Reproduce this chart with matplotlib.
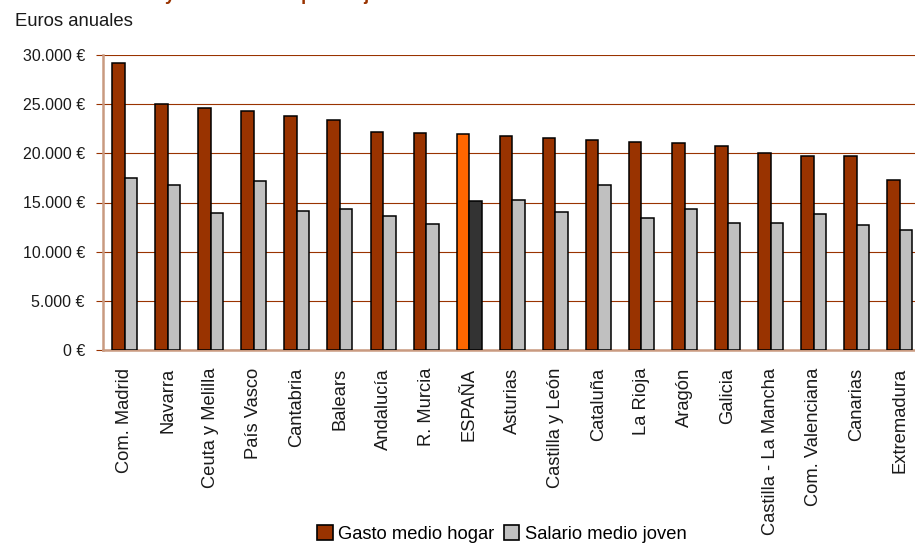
import matplotlib
matplotlib.use("Agg")
import matplotlib.pyplot as plt
import numpy as np
from matplotlib.patches import Patch
from matplotlib.ticker import FuncFormatter

regiones = ["Com. Madrid", "Navarra", "Ceuta y Melilla", "País Vasco", "Cantabria",
            "Balears", "Andalucía", "R. Murcia", "ESPAÑA", "Asturias",
            "Castilla y León", "Cataluña", "La Rioja", "Aragón", "Galicia",
            "Castilla - La Mancha", "Com. Valenciana", "Canarias", "Extremadura"]
gasto_hogar = [29200, 25050, 24600, 24300, 23800, 23350, 22170, 22070, 21970, 21730,
               21560, 21390, 21190, 21020, 20780, 20070, 19730, 19730, 17290]
salario_joven = [17490, 16810, 13900, 17220, 14100, 14370, 13660, 12780, 15120, 15250,
                 14000, 16810, 13390, 14370, 12920, 12920, 13800, 12680, 12200]
yticks = [0, 5000, 10000, 15000, 20000, 25000, 30000]
series_names = ["Gasto medio hogar", "Salario medio joven"]
titulo = "Coste de la vivienda y salario medio para el joven"

FONT = ["Liberation Sans", "DejaVu Sans"]
plt.rcParams["font.family"] = FONT

RED = "#993300"
GREY = "#C0C0C0"
ORANGE = "#FF6600"
DARK = "#333333"
SPINE = "#C99A80"
TXT = "#1a1a1a"

fig = plt.figure(figsize=(9.15, 5.43), dpi=100)
W, H = 915, 543
ax = fig.add_axes([103 / W, 1 - 350 / H, (921.5 - 103) / W, 295 / H])

x = np.arange(len(regiones))
bw = 0.29
red_colors = [ORANGE if r == "ESPAÑA" else RED for r in regiones]
grey_colors = [DARK if r == "ESPAÑA" else GREY for r in regiones]

ax.bar(x - bw / 2, gasto_hogar, width=bw, color=red_colors, edgecolor="black",
       linewidth=1.1, zorder=3)
ax.bar(x + bw / 2, salario_joven, width=bw, color=grey_colors, edgecolor="black",
       linewidth=1.1, zorder=3)

ax.set_xlim(-0.5, len(regiones) - 0.5)
ax.set_ylim(0, 30000)
ax.set_yticks(yticks)
ax.yaxis.set_major_formatter(FuncFormatter(lambda v, p: f"{int(v):,}".replace(",", ".") + " €"))
ax.yaxis.grid(True, color=RED, linewidth=0.8, zorder=0)
ax.set_axisbelow(True)

ax.set_xticks(x)
ax.set_xticklabels(regiones, rotation=90, fontsize=13.2, va="top", ha="center",
                   color=TXT)
ax.tick_params(axis="x", length=0, pad=13)
ax.tick_params(axis="y", length=5, color=RED, width=0.8, labelsize=11.5, pad=8,
               labelcolor=TXT)

for s in ["top", "right"]:
    ax.spines[s].set_visible(False)
for s in ["left", "bottom"]:
    ax.spines[s].set_color(SPINE)
    ax.spines[s].set_linewidth(1.8)

fig.text(15 / W, 1 - 21 / H, "Euros anuales", fontsize=13.3, ha="left", va="center",
         color=TXT)

# Title (cut off at the top of the image: only descenders visible)
renderer = fig.canvas.get_renderer()
prefix = titulo[:titulo.index(" y ") + 1]
tmp = fig.text(0, 0, prefix, fontsize=13, fontweight="bold")
pre_w = tmp.get_window_extent(renderer).width
tmp.remove()
fig.text((165 - pre_w) / W, 1.0, titulo, fontsize=13, fontweight="bold", color=RED,
         ha="left", va="baseline")

handles = [Patch(facecolor=RED, edgecolor="black", linewidth=1.2),
           Patch(facecolor=GREY, edgecolor="black", linewidth=1.2)]
ax.legend(handles, series_names, loc="center", bbox_to_anchor=(0.4875, -0.624),
          ncol=2, frameon=False, fontsize=13.2, handlelength=0.85, handleheight=0.85,
          handletextpad=0.3, columnspacing=0.5, borderaxespad=0)

fig.savefig("out.png", dpi=100)
